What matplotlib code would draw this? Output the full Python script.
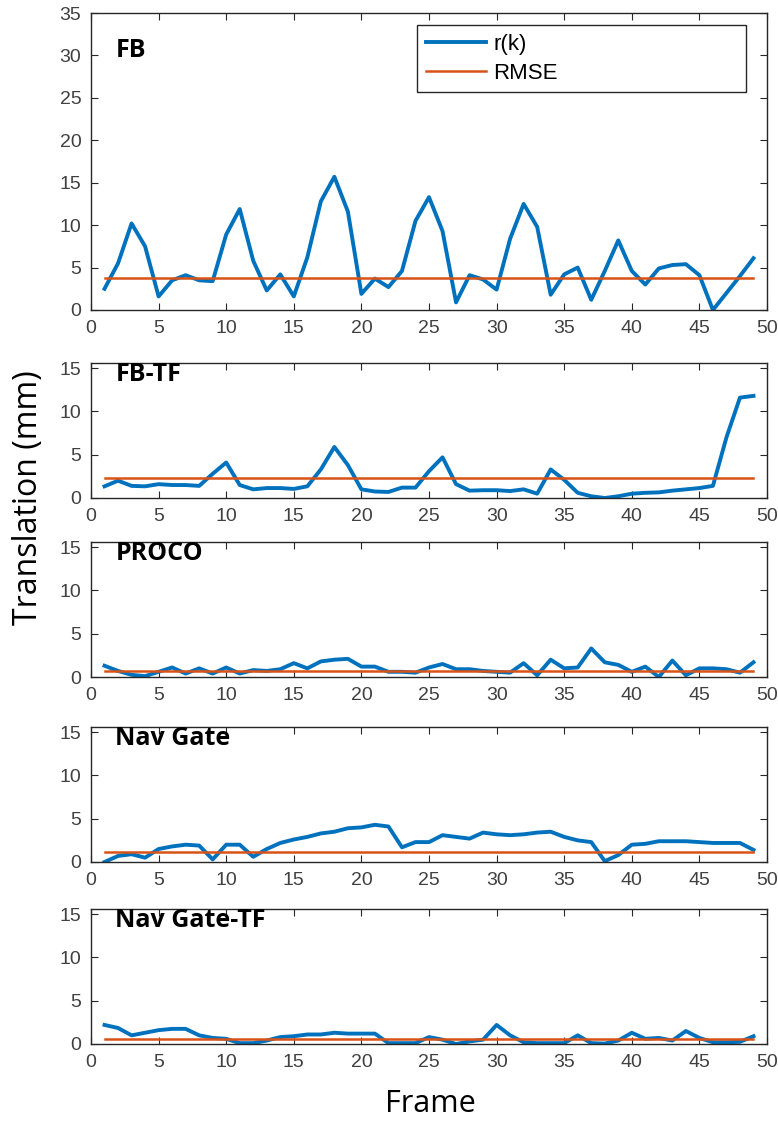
import numpy as np
import matplotlib
matplotlib.use('Agg')
import matplotlib.pyplot as plt

# frames 1..49
frames = np.arange(1, 50)

fb = [2.5, 5.5, 10.2, 7.5, 1.6, 3.5, 4.1, 3.5, 3.4, 8.9,
      11.9, 5.8, 2.3, 4.2, 1.6, 6.2, 12.8, 15.7, 11.6, 1.9,
      3.7, 2.7, 4.6, 10.5, 13.3, 9.3, 0.9, 4.1, 3.6, 2.4,
      8.4, 12.5, 9.8, 1.8, 4.2, 5.0, 1.2, 4.6, 8.2, 4.6,
      3.0, 4.9, 5.3, 5.4, 4.1, 0.0, 2.0, 4.0, 6.1]
fb_tf = [1.35, 2.0, 1.4, 1.35, 1.6, 1.5, 1.5, 1.4, 2.8, 4.1,
         1.5, 1.0, 1.15, 1.15, 1.05, 1.35, 3.3, 5.9, 3.8, 1.0,
         0.75, 0.7, 1.2, 1.2, 3.1, 4.7, 1.6, 0.85, 0.9, 0.9,
         0.8, 1.0, 0.5, 3.3, 2.1, 0.6, 0.2, 0.0, 0.2, 0.5,
         0.6, 0.65, 0.85, 1.0, 1.15, 1.4, 7.0, 11.6, 11.8]
proco = [1.3, 0.7, 0.25, 0.1, 0.6, 1.1, 0.4, 1.0, 0.4, 1.1,
         0.4, 0.8, 0.7, 0.9, 1.6, 1.0, 1.8, 2.0, 2.1, 1.2,
         1.2, 0.6, 0.6, 0.5, 1.1, 1.5, 0.9, 0.9, 0.7, 0.6,
         0.5, 1.6, 0.2, 2.0, 1.0, 1.1, 3.3, 1.7, 1.4, 0.6,
         1.2, 0.0, 1.9, 0.2, 1.0, 1.0, 0.9, 0.5, 1.7]
nav_gate = [0.0, 0.7, 0.9, 0.5, 1.5, 1.8, 2.0, 1.9, 0.3, 2.0,
            2.0, 0.6, 1.5, 2.2, 2.6, 2.9, 3.3, 3.5, 3.9, 4.0,
            4.3, 4.1, 1.7, 2.3, 2.3, 3.1, 2.9, 2.7, 3.4, 3.2,
            3.1, 3.2, 3.4, 3.5, 2.9, 2.5, 2.3, 0.1, 0.8, 2.0,
            2.1, 2.4, 2.4, 2.4, 2.3, 2.2, 2.2, 2.2, 1.4]
nav_gate_tf = [2.2, 1.85, 1.0, 1.3, 1.6, 1.75, 1.75, 1.0, 0.7, 0.6,
               0.1, 0.1, 0.4, 0.8, 0.9, 1.1, 1.1, 1.3, 1.2, 1.2,
               1.2, 0.1, 0.1, 0.1, 0.8, 0.5, 0.0, 0.3, 0.5, 2.2,
               1.0, 0.2, 0.1, 0.1, 0.1, 1.0, 0.1, 0.05, 0.4, 1.3,
               0.6, 0.7, 0.4, 1.5, 0.7, 0.2, 0.2, 0.25, 0.9]

names = ['FB', 'FB-TF', 'PROCO', 'Nav Gate', 'Nav Gate-TF']
series = [fb, fb_tf, proco, nav_gate, nav_gate_tf]
rmse = [3.8, 2.3, 0.7, 1.1, 0.6]
ymax = [35, 15.6, 15.6, 15.6, 15.6]

blue = '#0072BD'
orange = '#D95319'
dark = '#262626'

W, H = 778, 1121
fig = plt.figure(figsize=(W / 100, H / 100), dpi=100)

# panel boxes in pixels: left, top, right, bottom
boxes = [(91, 13, 767, 310),
         (91, 363, 767, 498),
         (91, 542, 767, 677),
         (91, 727, 767, 862),
         (91, 909, 767, 1044)]

for i in range(5):
    l, t, r, b = boxes[i]
    ax = fig.add_axes([l / W, 1 - b / H, (r - l) / W, (b - t) / H])
    ax.plot(frames, series[i], color=blue, lw=2.8, label='r(k)')
    ax.plot([frames[0], frames[-1]], [rmse[i], rmse[i]], color=orange, lw=1.8, label='RMSE')
    ax.set_xlim(0, 50)
    ax.set_ylim(0, ymax[i])
    ax.set_xticks(np.arange(0, 51, 5))
    if i == 0:
        ax.set_yticks(np.arange(0, 36, 5))
    else:
        ax.set_yticks([0, 5, 10, 15])
    ax.tick_params(direction='in', top=True, right=True, length=5, width=0.8,
                   labelsize=14, pad=7, colors=dark, labelcolor='#404040')
    for sp in ax.spines.values():
        sp.set_color(dark)
        sp.set_linewidth(1.0)
    for lab in ax.get_xticklabels() + ax.get_yticklabels():
        lab.set_family('Liberation Sans')
    ty = 0.853 if i == 0 else 0.863
    ax.text(0.036, ty, names[i], transform=ax.transAxes, fontsize=18,
            fontweight='bold', family='Open Sans', ha='left', va='baseline')
    if i == 0:
        leg = ax.legend(loc='upper left', bbox_to_anchor=(0.482, 0.80, 0.487, 0.16),
                        mode='expand', borderaxespad=0, fancybox=False,
                        edgecolor=dark, framealpha=1, handlelength=2.7,
                        handletextpad=0.35, borderpad=0.4, labelspacing=0.35,
                        prop={'family': 'Liberation Sans', 'size': 16})
        leg.get_frame().set_linewidth(1.0)

fig.text(29 / W, 1 - 498 / H, 'Translation (mm)', rotation=90, fontsize=23,
         family='Open Sans', ha='center', va='center')
fig.text(430 / W, 1 - 1112 / H, 'Frame', fontsize=22, family='Open Sans',
         ha='center', va='baseline')

fig.savefig('out.png', dpi=100)
